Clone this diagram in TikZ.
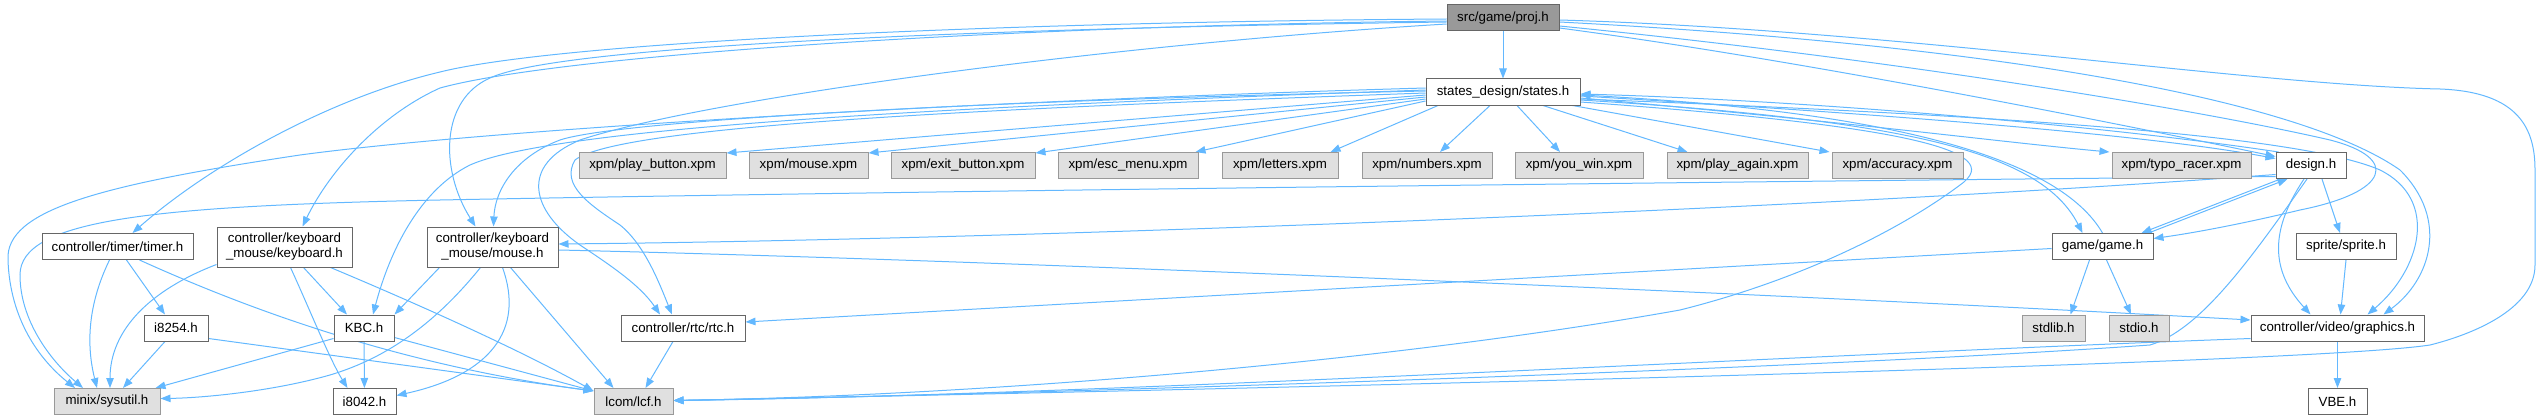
\documentclass[tikz,border=0pt]{standalone}
\usepackage{fontspec}
\setmainfont{Liberation Sans}
\usetikzlibrary{arrows.meta,calc}
\pgfdeclarelayer{bg}
\pgfsetlayers{bg,main}
\definecolor{edgec}{HTML}{63B8FF}
\definecolor{bord}{HTML}{666666}
\definecolor{gbord}{HTML}{999999}
\definecolor{gfill}{HTML}{E0E0E0}
\definecolor{rootfill}{HTML}{999999}
\tikzset{
  nd/.style={draw=bord, fill=white, line width=1pt, inner sep=0pt, minimum height=26pt,
    font=\fontsize{13.3}{15}\selectfont, text=black},
  ext/.style={nd, draw=gbord, fill=gfill},
  root/.style={nd, draw=bord, fill=rootfill},
  two/.style={nd, minimum height=40pt, align=center},
  e/.style={draw=edgec, line width=1pt, -{Triangle[length=10pt,width=7.5pt]}}
}
\begin{document}
\begin{tikzpicture}[x=1pt,y=-1pt]
\useasboundingbox (0,0) rectangle (2541,420);
% nodes
\node[root, minimum width=112pt] (proj) at (1503,18) {src/game/proj.h};
\node[nd, minimum width=154pt] (states) at (1503,92) {states\_design/states.h};
\node[ext, minimum width=147pt] (playbtn) at (652.5,165.5) {xpm/play\_button.xpm};
\node[ext, minimum width=119pt] (mousexpm) at (808.5,165.5) {xpm/mouse.xpm};
\node[ext, minimum width=144pt] (exitbtn) at (963,165.5) {xpm/exit\_button.xpm};
\node[ext, minimum width=140pt] (escmenu) at (1128,165.5) {xpm/esc\_menu.xpm};
\node[ext, minimum width=116pt] (letters) at (1280,165.5) {xpm/letters.xpm};
\node[ext, minimum width=130pt] (numbers) at (1427,165.5) {xpm/numbers.xpm};
\node[ext, minimum width=128pt] (youwin) at (1579,165.5) {xpm/you\_win.xpm};
\node[ext, minimum width=141pt] (playagain) at (1737.5,165.5) {xpm/play\_again.xpm};
\node[ext, minimum width=131pt] (accuracy) at (1897.5,165.5) {xpm/accuracy.xpm};
\node[ext, minimum width=139pt] (typo) at (2181.5,165.5) {xpm/typo\_racer.xpm};
\node[nd, minimum width=70pt] (design) at (2311,165.5) {design.h};
\node[nd, minimum width=151pt] (timer) at (117.5,246.5) {controller/timer/timer.h};
\node[two, minimum width=135pt] (keyboard) at (284.5,247) {controller/keyboard\\\_mouse/keyboard.h};
\node[two, minimum width=131pt] (mouse) at (492.5,247) {controller/keyboard\\\_mouse/mouse.h};
\node[nd, minimum width=101pt] (game) at (2102.5,246.5) {game/game.h};
\node[nd, minimum width=100pt] (sprite) at (2346,246.5) {sprite/sprite.h};
\node[nd, minimum width=64pt] (i8254) at (176,328) {i8254.h};
\node[nd, minimum width=60pt] (KBC) at (364,328) {KBC.h};
\node[nd, minimum width=124pt] (rtc) at (683,328) {controller/rtc/rtc.h};
\node[ext, minimum width=63pt] (stdlib) at (2053.5,328) {stdlib.h};
\node[ext, minimum width=60pt] (stdio) at (2139,328) {stdio.h};
\node[nd, minimum width=173pt] (graphics) at (2337.5,328) {controller/video/graphics.h};
\node[ext, minimum width=106pt] (sysutil) at (107,401.5) {minix/sysutil.h};
\node[nd, minimum width=63pt] (i8042) at (364.5,401.5) {i8042.h};
\node[ext, minimum width=79pt] (lcf) at (633.5,401.5) {lcom/lcf.h};
\node[nd, minimum width=59pt] (VBE) at (2337.5,401.5) {VBE.h};

\begin{pgfonlayer}{bg}
% proj.h
\draw[e] (proj) -- (states);
\draw[e] ($(proj.west)+(0,1)$) .. controls (1000,22) and (560,42) .. (440,72) .. controls (330,98) and (210,165) .. ($(timer.north)+(15,0)$);
\draw[e] ($(proj.west)+(0,3)$) .. controls (1000,26) and (560,55) .. (440,88) .. controls (380,115) and (330,170) .. ($(keyboard.north)+(18,0)$);
\draw[e] ($(proj.west)+(0,4)$) .. controls (1000,28) and (560,45) .. (490,78) .. controls (440,100) and (440,170) .. ($(mouse.north)+(-17,0)$);
\draw[e] ($(proj.west)+(0,6)$) .. controls (1100,45) and (700,100) .. (580,140) .. controls (520,165) and (530,210) .. (580,245) .. controls (610,265) and (640,285) .. ($(rtc.north)+(-23,0)$);
\draw[e] ($(proj.east)+(0,10)$) .. controls (1800,60) and (2100,120) .. ($(design.west)+(0,-9)$);
\draw[e] ($(proj.east)+(0,8)$) .. controls (1900,60) and (2200,110) .. (2330,140) .. controls (2400,158) and (2390,192) .. (2300,210) .. controls (2250,222) and (2200,232) .. ($(game.east)+(0,-8)$);
\draw[e] ($(proj.east)+(0,4)$) .. controls (2000,45) and (2300,100) .. (2400,170) .. controls (2450,220) and (2430,280) .. ($(graphics.north)+(46,0)$);
\draw[e] ($(proj.east)+(0,2)$) .. controls (1900,30) and (2250,85) .. (2440,89) .. controls (2520,92) and (2535,130) .. (2535,170) -- (2535,265) .. controls (2535,310) and (2470,335) .. (2430,345) .. controls (2300,365) and (1200,390) .. ($(lcf.east)+(0,-1)$);
% states.h
\draw[e] ($(states.west)+(0,-2)$) .. controls (1000,105) and (560,125) .. (470,165) .. controls (420,190) and (390,250) .. ($(KBC.north)+(9,0)$);
\draw[e] ($(states.west)+(0,-4)$) .. controls (1000,100) and (500,128) .. (300,155) .. controls (100,185) and (5,210) .. (8,260) .. controls (10,320) and (40,360) .. ($(sysutil.north)+(-32,0)$);
\draw[e] ($(states.west)+(0,-1)$) .. controls (1000,100) and (620,120) .. (560,140) .. controls (515,157) and (495,190) .. ($(mouse.north)+(1,0)$);
\draw[e] ($(states.west)+(0,1)$) .. controls (1000,108) and (620,125) .. (575,160) .. controls (560,185) and (590,205) .. (620,225) .. controls (645,245) and (660,285) .. ($(rtc.north)+(-11,0)$);
\draw[e] ($(states.west)+(0,3)$) -- ($(playbtn.north east)+(0,1)$);
\draw[e] ($(states.west)+(0,5)$) -- ($(mousexpm.north east)+(0,1)$);
\draw[e] ($(states.west)+(0,7)$) -- ($(exitbtn.north east)+(0,1)$);
\draw[e] ($(states.west)+(0,9)$) -- ($(escmenu.north east)+(-3,0)$);
\draw[e] ($(states.south)+(-65,0)$) -- ($(letters.north east)+(-8,0)$);
\draw[e] ($(states.south)+(-13,0)$) -- ($(numbers.north)+(13,0)$);
\draw[e] ($(states.south)+(14,0)$) -- ($(youwin.north)+(-19,0)$);
\draw[e] ($(states.south)+(40,0)$) -- ($(playagain.north)+(-50,0)$);
\draw[e] ($(states.south east)+(-8,0)$) -- ($(accuracy.north west)+(-2,0)$);
\draw[e] ($(states.east)+(0,6)$) .. controls (1850,122) and (2000,142) .. ($(typo.north west)+(-2,0)$);
\draw[e] ($(states.east)+(0,4)$) .. controls (1900,115) and (2150,135) .. ($(design.west)+(0,-7)$);
\draw[e] ($(states.east)+(0,8)$) .. controls (1900,120) and (2040,150) .. ($(game.north)+(-20,0)$);
\draw[e] ($(states.east)+(0,7)$) .. controls (2000,115) and (2300,135) .. (2380,170) .. controls (2440,200) and (2420,270) .. ($(graphics.north)+(30,0)$);
\draw[e] ($(states.east)+(0,10)$) .. controls (1900,125) and (2010,150) .. (1960,185) .. controls (1900,230) and (1800,280) .. (1680,310) .. controls (1400,360) and (1000,395) .. ($(lcf.east)+(0,-1)$);
% design.h
\draw[e] ($(design.north west)+(3,0)$) .. controls (2100,125) and (1800,100) .. ($(states.east)+(0,2)$);
\draw[e] ($(design.west)+(0,11)$) .. controls (1500,184) and (800,193) .. (440,200) .. controls (150,206) and (20,220) .. (20,275) .. controls (20,320) and (50,360) .. ($(sysutil.north)+(-24,0)$);
\draw[e] ($(design.west)+(0,9)$) .. controls (1800,210) and (1000,240) .. ($(mouse.east)+(0,-3)$);
\draw[e] ($(design.south west)+(5,0)$) -- ($(game.north east)+(-12,0)$);
\draw[e] ($(design.south)+(11,0)$) -- ($(sprite.north)+(-6,0)$);
\draw[e] ($(design.south)+(-7,0)$) .. controls (2270,230) and (2270,270) .. ($(graphics.north)+(-27,0)$);
\draw[e] ($(design.south)+(-4,0)$) .. controls (2250,260) and (2200,330) .. (2150,345) .. controls (1800,370) and (1000,395) .. ($(lcf.east)+(0,-1)$);
% game.h
\draw[e] (game.north) .. controls (2060,160) and (1900,112) .. ($(states.east)+(0,3)$);
\draw[e] ($(game.north east)+(-5,0)$) -- ($(design.south west)+(12,0)$);
\draw[e] ($(game.west)+(0,2)$) -- ($(rtc.east)+(0,-6)$);
\draw[e] ($(game.south)+(-13,0)$) -- ($(stdlib.north)+(17,0)$);
\draw[e] ($(game.south)+(4,0)$) -- ($(stdio.north)+(-8,0)$);
% sprite, graphics
\draw[e] (sprite.south) -- ($(graphics.north)+(3,0)$);
\draw[e] (graphics) -- (VBE);
\draw[e] ($(graphics.south west)+(0,-3)$) .. controls (1800,355) and (1100,395) .. ($(lcf.east)+(0,-1)$);
% timer
\draw[e] ($(timer.south)+(-8,0)$) .. controls (90,300) and (85,340) .. ($(sysutil.north)+(-10,0)$);
\draw[e] ($(timer.south)+(9,0)$) -- ($(i8254.north)+(-11,0)$);
\draw[e] ($(timer.south)+(22,0)$) .. controls (250,310) and (400,365) .. ($(lcf.north west)+(0,3)$);
% keyboard
\draw[e] ($(keyboard.south west)+(0,-3)$) .. controls (150,290) and (110,330) .. ($(sysutil.north)+(3,0)$);
\draw[e] ($(keyboard.south)+(19,0)$) -- ($(KBC.north)+(-17,0)$);
\draw[e] ($(keyboard.south)+(6,0)$) .. controls (310,310) and (330,360) .. ($(i8042.north)+(-17,0)$);
\draw[e] ($(keyboard.south east)+(-22,0)$) .. controls (420,305) and (520,350) .. ($(lcf.north west)+(0,3)$);
% i8254, KBC
\draw[e] ($(i8254.south)+(-11,0)$) -- ($(sysutil.north)+(16,0)$);
\draw[e] ($(i8254.south east)+(0,-3)$) -- ($(lcf.north west)+(0,3)$);
\draw[e] ($(KBC.south west)+(0,-3)$) -- ($(sysutil.north east)+(-5,0)$);
\draw[e] (KBC) -- (i8042);
\draw[e] ($(KBC.south east)+(0,-4)$) -- ($(lcf.north west)+(0,3)$);
% mouse
\draw[e] ($(mouse.south west)+(13,0)$) -- (KBC.north east);
\draw[e] ($(mouse.south)+(-12,0)$) .. controls (430,330) and (380,360) .. (330,375) .. controls (270,392) and (200,398) .. ($(sysutil.east)+(0,-3)$);
\draw[e] ($(mouse.south)+(10,0)$) .. controls (525,330) and (490,375) .. ($(i8042.east)+(0,-6)$);
\draw[e] ($(mouse.south)+(18,0)$) -- ($(lcf.north)+(-20,0)$);
\draw[e] ($(mouse.east)+(0,3)$) .. controls (1000,260) and (1800,295) .. ($(graphics.west)+(0,-8)$);
% rtc
\draw[e] ($(rtc.south)+(-10,0)$) -- ($(lcf.north)+(12,0)$);
\end{pgfonlayer}
\end{tikzpicture}
\end{document}
